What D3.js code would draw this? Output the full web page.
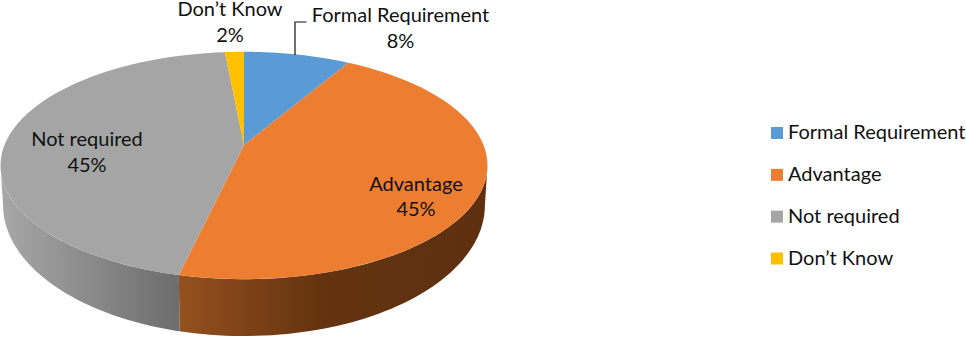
<!DOCTYPE html>
<html><head><meta charset="utf-8">
<script src="https://cdn.jsdelivr.net/npm/d3@7"></script>
<style>html,body{margin:0;padding:0;background:#fff}svg{display:block}text{font-family:Lato,"Open Sans",sans-serif;fill:#111}</style>
</head><body><svg id="c" width="966" height="338"></svg>
<script>
const categories = ["Formal Requirement","Advantage","Not required","Don\u2019t Know"];
const values = [8.4,45.2,44.9,1.5];
const colors = ["#5b9bd5","#ed7d31","#a5a5a5","#ffc000"];
const svg = d3.select("#c");

// perspective projection of the pie disc (unit circle -> screen)
const k = 0.18;
function project(t, cx, cy, a, b){
  const u = Math.sin(t), v = Math.cos(t), w = 1 + k*v;
  return [cx + a*u/w, cy - b*v/w];
}
const topFace = t => project(t, 244, 145, 239.5, 110);
const baseFace = t => project(t, 244, 181.4, 237, 126.8);

const arcs = d3.pie().value(d=>d).sort(null)(values);
const line = d3.line();
const sample = (s,e) => d3.range(0,61).map(i => s + (e-s)*i/60);

const defs = svg.append("defs");
function grad(id, x1, x2, stops){
  const g = defs.append("linearGradient").attr("id",id).attr("gradientUnits","userSpaceOnUse")
    .attr("x1",x1).attr("x2",x2).attr("y1",0).attr("y2",0);
  stops.forEach(s => g.append("stop").attr("offset",s[0]).attr("stop-color",s[1]));
}
grad("sideOrange",180,487,[[0,"#95501f"],[0.45,"#64340f"],[1,"#5e3010"]]);
grad("sideGray",0,181,[[0,"#a8a8a8"],[0.5,"#8a8a8a"],[1,"#6c6c6c"]]);

// side wall: visible part of each slice between the rightmost and leftmost rim points
const rimAngle = Math.acos(-k);
const sideRange = [rimAngle, 2*Math.PI - rimAngle];
[[1,"sideOrange"],[2,"sideGray"]].forEach(([i,id])=>{
  const s = Math.max(arcs[i].startAngle, sideRange[0]);
  const e = Math.min(arcs[i].endAngle, sideRange[1]);
  const ang = sample(s,e);
  const pts = ang.map(topFace).concat(ang.slice().reverse().map(baseFace));
  svg.append("path").attr("d", line(pts)+"Z").attr("fill",`url(#${id})`);
});

// top face
const apex = [244,145];
arcs.forEach((d,i)=>{
  const pts = [apex].concat(sample(d.startAngle,d.endAngle).map(topFace));
  svg.append("path").attr("d", line(pts)+"Z").attr("fill",colors[i]);
});

// leader line
svg.append("path").attr("d","M295,55V22H306.5").attr("fill","none").attr("stroke","#111").attr("stroke-width",1.2);

// data labels
const fs = 20;
const pct = d3.format(".0%");
const labelPos = [[400.5,22,48],[416,191,216],[87,146,172],[230,16,42]];
values.forEach((v,i)=>{
  const p = labelPos[i];
  svg.append("text").attr("x",p[0]).attr("y",p[1]).attr("text-anchor","middle").attr("font-size",fs).text(categories[i]);
  svg.append("text").attr("x",p[0]).attr("y",p[2]).attr("text-anchor","middle").attr("font-size",fs).text(pct(v/100));
});

// legend
const ly = d3.scalePoint().domain(categories).range([133,258.5]);
const lg = svg.append("g").selectAll("g").data(categories).join("g").attr("transform",d=>`translate(771,${ly(d)})`);
lg.append("rect").attr("x",0).attr("y",-6).attr("width",12).attr("height",12).attr("fill",(d,i)=>colors[i]);
lg.append("text").attr("x",17).attr("y",6).attr("font-size",fs).text(d=>d);
</script></body></html>
